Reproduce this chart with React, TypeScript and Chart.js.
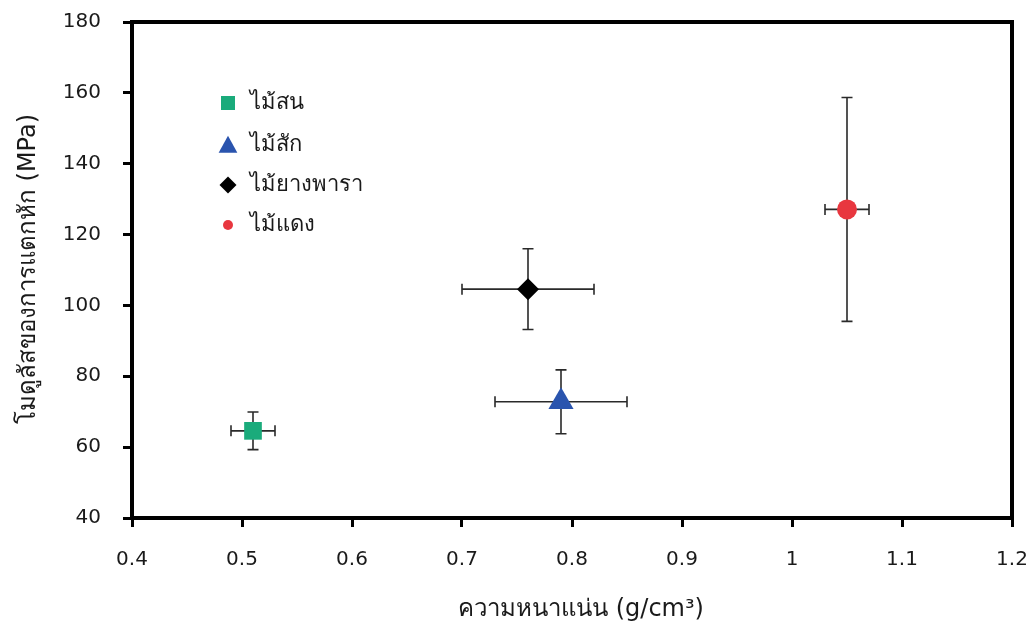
import React, { useEffect, useRef } from 'react';
import { Chart, registerables } from 'chart.js';

Chart.register(...registerables);

const seriesNames = ['ไม้สน', 'ไม้สัก', 'ไม้ยางพารา', 'ไม้แดง'];
const densityX = [0.51, 0.79, 0.76, 1.05];
const modulusY = [64.6, 72.8, 104.6, 127.1];
const densityErr = [0.02, 0.06, 0.06, 0.02];
const modulusErr = [5.3, 9.0, 11.4, 31.6];
const seriesColors = ['#1aab7b', '#2a54ae', '#000000', '#e8373f'];
const seriesStyles = ['rect', 'triangle', 'rectRot', 'circle'];
const seriesRadius = [12.5, 14.5, 11, 10];

const xMin = 0.4;
const xMax = 1.2;
const xStep = 0.1;
const yMin = 40;
const yMax = 180;
const yStep = 20;

const xTitle = 'ความหนาแน่น (g/cm³)';
const yTitle = 'โมดูลัสของการแตกหัก (MPa)';

const FONT = '"DejaVu Sans", "Noto Sans", sans-serif';
const TEXT_COLOR = '#1a1a1a';

function drawSymbol(ctx: CanvasRenderingContext2D, style: string, x: number, y: number, s: number, color: string) {
  ctx.save();
  ctx.fillStyle = color;
  ctx.beginPath();
  if (style === 'rect') {
    ctx.rect(x - s / 2, y - s / 2, s, s);
  } else if (style === 'triangle') {
    ctx.moveTo(x, y - s * 0.55);
    ctx.lineTo(x + s * 0.55, y + s * 0.45);
    ctx.lineTo(x - s * 0.55, y + s * 0.45);
    ctx.closePath();
  } else if (style === 'rectRot') {
    ctx.moveTo(x, y - s / 2);
    ctx.lineTo(x + s / 2, y);
    ctx.lineTo(x, y + s / 2);
    ctx.lineTo(x - s / 2, y);
    ctx.closePath();
  } else {
    ctx.arc(x, y, s / 2, 0, Math.PI * 2);
  }
  ctx.fill();
  ctx.restore();
}

const errorBarsPlugin = {
  id: 'errorBars',
  beforeDatasetsDraw(chart: any) {
    const ctx = chart.ctx as CanvasRenderingContext2D;
    const xs = chart.scales.x;
    const ys = chart.scales.y;
    const cap = 5.5;
    ctx.save();
    ctx.strokeStyle = '#2a2a2a';
    ctx.lineWidth = 1.6;
    for (let i = 0; i < densityX.length; i++) {
      const cx = xs.getPixelForValue(densityX[i]);
      const cy = ys.getPixelForValue(modulusY[i]);
      const x1 = xs.getPixelForValue(densityX[i] - densityErr[i]);
      const x2 = xs.getPixelForValue(densityX[i] + densityErr[i]);
      const y1 = ys.getPixelForValue(modulusY[i] + modulusErr[i]);
      const y2 = ys.getPixelForValue(modulusY[i] - modulusErr[i]);
      ctx.beginPath();
      ctx.moveTo(x1, cy); ctx.lineTo(x2, cy);
      ctx.moveTo(x1, cy - cap); ctx.lineTo(x1, cy + cap);
      ctx.moveTo(x2, cy - cap); ctx.lineTo(x2, cy + cap);
      ctx.moveTo(cx, y1); ctx.lineTo(cx, y2);
      ctx.moveTo(cx - cap, y1); ctx.lineTo(cx + cap, y1);
      ctx.moveTo(cx - cap, y2); ctx.lineTo(cx + cap, y2);
      ctx.stroke();
    }
    ctx.restore();
  },
};

const framePlugin = {
  id: 'frameAndText',
  afterDraw(chart: any) {
    const ctx = chart.ctx as CanvasRenderingContext2D;
    const a = chart.chartArea;
    ctx.save();
    ctx.strokeStyle = '#000';
    ctx.lineWidth = 4;
    ctx.strokeRect(a.left, a.top, a.right - a.left, a.bottom - a.top);

    // legend
    const legendSizes = [14, 17, 17, 10];
    const rows = [81, 123, 163, 203];
    ctx.font = `22px ${FONT}`;
    ctx.fillStyle = TEXT_COLOR;
    ctx.textBaseline = 'middle';
    ctx.textAlign = 'left';
    for (let i = 0; i < seriesNames.length; i++) {
      const yy = a.top + rows[i];
      drawSymbol(ctx, seriesStyles[i], a.left + 96, yy, legendSizes[i], seriesColors[i]);
      ctx.fillStyle = TEXT_COLOR;
      ctx.fillText(seriesNames[i], a.left + 118, yy);
    }

    // axis titles
    ctx.font = `24px ${FONT}`;
    ctx.textAlign = 'center';
    ctx.fillText(xTitle, 581, 610);
    ctx.translate(29, 269);
    ctx.rotate(-Math.PI / 2);
    ctx.fillText(yTitle, 0, 0);
    ctx.restore();
  },
};

export default function App() {
  const ref = useRef<HTMLCanvasElement | null>(null);

  useEffect(() => {
    if (!ref.current) return;
    const datasets = seriesNames.map((name, i) => ({
      label: name,
      data: [{ x: densityX[i], y: modulusY[i] }],
      pointStyle: seriesStyles[i],
      pointRadius: seriesRadius[i],
      pointHoverRadius: seriesRadius[i],
      backgroundColor: seriesColors[i],
      borderColor: seriesColors[i],
      borderWidth: 0,
      showLine: false,
    }));

    const chart = new Chart(ref.current, {
      type: 'scatter',
      data: { datasets } as any,
      options: {
        animation: false,
        responsive: false,
        layout: { padding: { left: 0, top: 22, right: 23, bottom: 0 } },
        plugins: { legend: { display: false }, tooltip: { enabled: false } },
        scales: {
          x: {
            type: 'linear',
            min: xMin,
            max: xMax,
            afterFit: (s: any) => { s.height = 109; s.paddingLeft = 0; s.paddingRight = 0; },
            afterBuildTicks: (s: any) => {
              const t = [];
              for (let v = xMin; v <= xMax + 1e-9; v += xStep) t.push({ value: Math.round(v * 10) / 10 });
              s.ticks = t;
            },
            ticks: {
              color: TEXT_COLOR,
              font: { family: FONT, size: 20 },
              padding: 21,
              callback: (v: any) => String(Math.round(Number(v) * 10) / 10),
            },
            grid: { display: true, drawOnChartArea: false, drawTicks: true, tickLength: 9, tickWidth: 3, tickColor: '#000' },
            border: { display: false },
          },
          y: {
            type: 'linear',
            min: yMin,
            max: yMax,
            afterFit: (s: any) => { s.width = 132; s.paddingTop = 0; s.paddingBottom = 0; },
            ticks: {
              stepSize: yStep,
              color: TEXT_COLOR,
              font: { family: FONT, size: 20 },
              padding: 22,
            },
            grid: { display: true, drawOnChartArea: false, drawTicks: true, tickLength: 9, tickWidth: 3, tickColor: '#000' },
            border: { display: false },
          },
        },
      },
      plugins: [errorBarsPlugin, framePlugin],
    } as any);
    return () => chart.destroy();
  }, []);

  return (
    <div style={{ position: 'fixed', left: 0, top: 0, width: 1035, height: 627, background: '#fff' }}>
      <canvas ref={ref} width={1035} height={627} />
    </div>
  );
}
